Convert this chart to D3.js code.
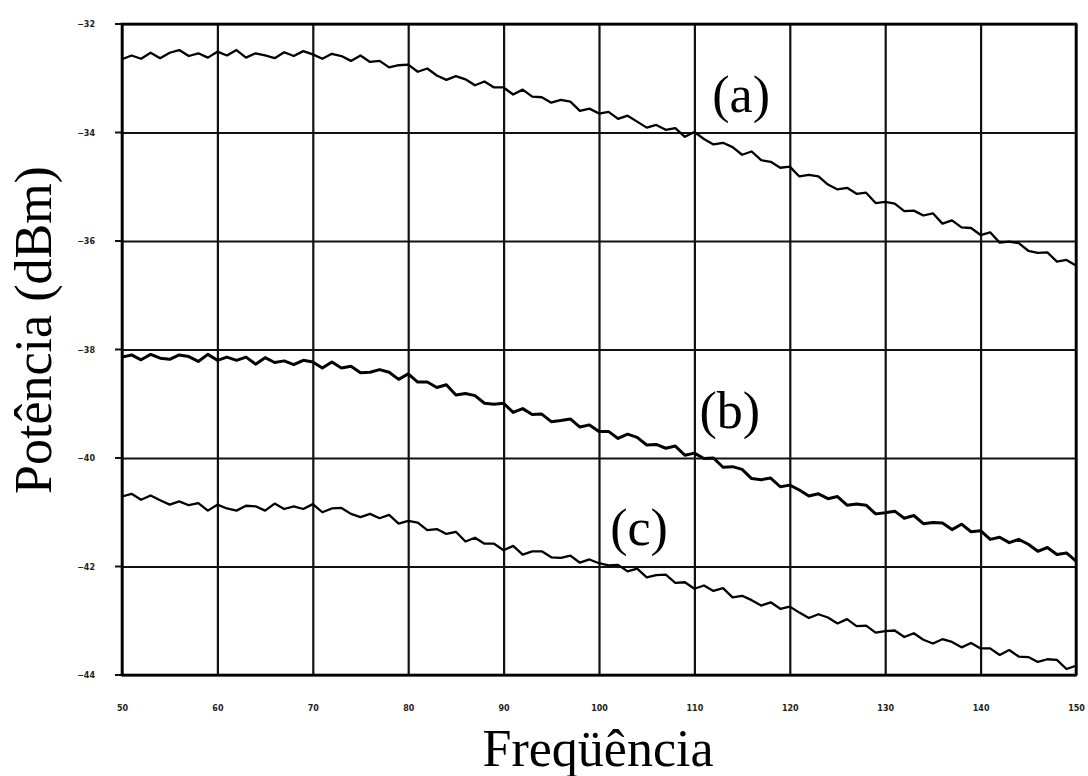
<!DOCTYPE html>
<html lang="pt">
<head>
	<meta charset="UTF-8">
	<title>Potência x Freqüência</title>
	<style>
		body { margin: 0; background: #fff; }
		svg { display: block; }
		.tick text { font-family: "DejaVu Sans", sans-serif; font-weight: bold; font-size: 8px; fill: #222; }
		.title { font-family: "Liberation Serif", "Times New Roman", serif; fill: #000; }
	</style>
</head>
<body>

	<script src="https://cdn.jsdelivr.net/npm/d3@7"></script>

	<script type="text/javascript">

		var chartWidth = 1088,
			chartHeight = 776;

		var margin = { top: 24, right: 12, bottom: 101, left: 122 };

		// frequency axis: 50 .. 150, one sample per unit
		var freqStart = 50;
		var xTicks = [ 50, 60, 70, 80, 90, 100, 110, 120, 130, 140, 150 ];
		var yTicks = [ -32, -34, -36, -38, -40, -42, -44 ];

		// trace (a)
		var traceA = [
			-32.65, -32.58, -32.64, -32.53, -32.63, -32.53, -32.48, -32.59, -32.54, -32.62,
			-32.51, -32.58, -32.48, -32.62, -32.54, -32.58, -32.63, -32.52, -32.59, -32.50,
			-32.56, -32.64, -32.55, -32.59, -32.68, -32.58, -32.70, -32.68, -32.80, -32.76,
			-32.75, -32.88, -32.82, -32.95, -33.03, -32.96, -33.02, -33.13, -33.06, -33.17,
			-33.17, -33.30, -33.21, -33.34, -33.35, -33.45, -33.40, -33.43, -33.60, -33.56,
			-33.65, -33.62, -33.75, -33.69, -33.80, -33.91, -33.86, -33.95, -33.92, -34.08,
			-33.99, -34.12, -34.22, -34.19, -34.27, -34.41, -34.35, -34.51, -34.54, -34.65,
			-34.63, -34.81, -34.78, -34.81, -34.96, -35.05, -35.02, -35.13, -35.11, -35.30,
			-35.28, -35.31, -35.45, -35.44, -35.53, -35.49, -35.68, -35.62, -35.75, -35.76,
			-35.89, -35.84, -36.03, -36.01, -36.04, -36.18, -36.22, -36.21, -36.38, -36.35,
			-36.45
		];

		// trace (b)
		var traceB = [
			-38.14, -38.10, -38.19, -38.09, -38.16, -38.18, -38.10, -38.13, -38.22, -38.09,
			-38.20, -38.14, -38.20, -38.14, -38.27, -38.15, -38.24, -38.21, -38.28, -38.20,
			-38.23, -38.34, -38.23, -38.34, -38.31, -38.43, -38.42, -38.37, -38.42, -38.55,
			-38.45, -38.60, -38.60, -38.70, -38.65, -38.84, -38.81, -38.85, -38.99, -39.01,
			-38.99, -39.16, -39.09, -39.20, -39.19, -39.33, -39.31, -39.28, -39.43, -39.39,
			-39.51, -39.51, -39.64, -39.56, -39.62, -39.76, -39.75, -39.82, -39.78, -39.95,
			-39.91, -40.01, -40.00, -40.17, -40.16, -40.21, -40.38, -40.40, -40.37, -40.53,
			-40.50, -40.59, -40.70, -40.66, -40.75, -40.71, -40.87, -40.85, -40.87, -41.03,
			-41.01, -40.98, -41.11, -41.06, -41.21, -41.19, -41.20, -41.32, -41.22, -41.36,
			-41.34, -41.50, -41.46, -41.56, -41.50, -41.59, -41.72, -41.65, -41.78, -41.75,
			-41.90
		];

		// trace (c)
		var traceC = [
			-40.71, -40.66, -40.77, -40.69, -40.78, -40.86, -40.80, -40.87, -40.83, -40.97,
			-40.86, -40.93, -40.97, -40.88, -40.89, -40.97, -40.84, -40.94, -40.89, -40.94,
			-40.85, -41.00, -40.93, -40.92, -41.03, -41.09, -41.03, -41.11, -41.05, -41.21,
			-41.16, -41.19, -41.33, -41.31, -41.40, -41.36, -41.54, -41.47, -41.58, -41.58,
			-41.70, -41.62, -41.78, -41.72, -41.72, -41.83, -41.84, -41.80, -41.93, -41.87,
			-41.94, -41.98, -41.97, -42.09, -42.04, -42.20, -42.16, -42.15, -42.30, -42.29,
			-42.41, -42.35, -42.45, -42.40, -42.57, -42.54, -42.62, -42.72, -42.66, -42.78,
			-42.74, -42.85, -42.95, -42.88, -42.94, -43.05, -42.97, -43.10, -43.09, -43.22,
			-43.19, -43.18, -43.30, -43.23, -43.35, -43.42, -43.34, -43.39, -43.49, -43.41,
			-43.51, -43.51, -43.63, -43.54, -43.66, -43.67, -43.76, -43.71, -43.72, -43.89,
			-43.83
		];

		var seriesLabels = [ "(a)", "(b)", "(c)" ];
		var labelPos = [ [ 114.9, -33.62 ], [ 113.7, -39.45 ], [ 104.2, -41.6 ] ];

		var width = chartWidth - margin.left - margin.right,
			height = chartHeight - margin.top - margin.bottom;

		var svg = d3.select( "body" )
					.append( "svg" )
					.attr( "width", chartWidth )
					.attr( "height", chartHeight );

		var g = svg.append( "g" )
					.attr( "transform", "translate(" + margin.left + "," + margin.top + ")" );

		var x = d3.scaleLinear().domain( [ 50, 150 ] ).range( [ 0, width ] );
		var y = d3.scaleLinear().domain( [ -32, -44 ] ).range( [ 0, height ] );

		// grid + ticks
		var xAxis = g.append( "g" )
			.attr( "transform", "translate(0," + height + ")" )
			.call( d3.axisBottom( x ).tickValues( xTicks ).tickSize( -height ).tickSizeOuter( 0 ).tickPadding( 30 ) );

		var yAxis = g.append( "g" )
			.call( d3.axisLeft( y ).tickValues( yTicks ).tickSize( -width ).tickSizeOuter( 0 ).tickPadding( 27 )
				.tickFormat( function( d ) { return "\u2212" + Math.abs( d ); } ) );

		[ xAxis, yAxis ].forEach( function( ax ) {
			ax.select( ".domain" ).remove();
			ax.selectAll( ".tick line" ).attr( "stroke", "#111" ).attr( "stroke-width", 2.2 );
		});

		// little outside tick marks
		g.selectAll( "line.ytick" ).data( yTicks ).enter().append( "line" )
			.attr( "x1", -7 ).attr( "x2", 0 )
			.attr( "y1", function( d ) { return y( d ); } ).attr( "y2", function( d ) { return y( d ); } )
			.attr( "stroke", "#111" ).attr( "stroke-width", 2 );

		// frame
		g.append( "rect" )
			.attr( "width", width ).attr( "height", height )
			.attr( "fill", "none" ).attr( "stroke", "#000" ).attr( "stroke-width", 2.6 );

		var line = d3.line()
			.x( function( d, i ) { return x( freqStart + i ); } )
			.y( function( d ) { return y( d ); } );

		[ traceA, traceB, traceC ].forEach( function( trace, i ) {
			g.append( "path" )
				.datum( trace )
				.attr( "fill", "none" )
				.attr( "stroke", "#000" )
				.attr( "stroke-width", i === 1 ? 3 : 2.3 )
				.attr( "stroke-linejoin", "round" )
				.attr( "d", line );
		});

		g.selectAll( "text.series" ).data( seriesLabels ).enter().append( "text" )
			.attr( "class", "title" )
			.attr( "x", function( d, i ) { return x( labelPos[ i ][ 0 ] ); } )
			.attr( "y", function( d, i ) { return y( labelPos[ i ][ 1 ] ); } )
			.attr( "text-anchor", "middle" )
			.style( "font-size", "52px" )
			.text( function( d ) { return d; } );

		// axis titles
		svg.append( "text" )
			.attr( "class", "title" )
			.attr( "x", 598 ).attr( "y", 766 )
			.attr( "text-anchor", "middle" )
			.style( "font-size", "52px" )
			.text( "Freqüência" );

		svg.append( "text" )
			.attr( "class", "title" )
			.attr( "transform", "translate(51,330) rotate(-90)" )
			.attr( "text-anchor", "middle" )
			.style( "font-size", "52px" )
			.text( "Potência (dBm)" );

	</script>
</body>
</html>
